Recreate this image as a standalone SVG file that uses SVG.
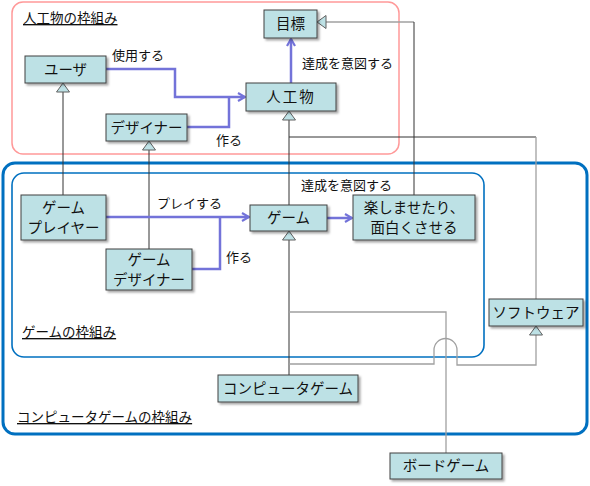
<svg xmlns="http://www.w3.org/2000/svg" width="590" height="486" viewBox="0 0 590 486">
<defs>
<style>
text{font-family:"Noto Sans CJK JP","Noto Sans",sans-serif;fill:#111;}
.n{font-size:14.5px;text-anchor:middle;}
.l{font-size:13px;}
.f{font-size:13.5px;text-decoration:underline;}
.box{fill:#bde1e5;stroke:#404040;stroke-width:1;filter:url(#sh);}
.p{fill:none;stroke:#7373d9;stroke-width:2.5;}
.g{fill:none;stroke:#333;stroke-width:1;}
.g2{fill:none;stroke:#a0a0a0;stroke-width:1.3;}
.tri{fill:#bde1e5;stroke:#606060;stroke-width:1;}
</style>
<filter id="sh" x="-10%" y="-20%" width="130%" height="150%">
<feDropShadow dx="2" dy="2" stdDeviation="1" flood-color="#000" flood-opacity="0.35"/>
</filter>
<marker id="ar" markerWidth="10" markerHeight="10" refX="8" refY="5" orient="auto" markerUnits="userSpaceOnUse">
<path d="M1,1 L8,5 L1,9" fill="none" stroke="#7373d9" stroke-width="2.2"/>
</marker>
</defs>
<rect width="590" height="486" fill="#fff"/>

<g id="frames">
<rect x="12" y="2" width="387" height="152" rx="11" fill="none" stroke="#ff9999" stroke-width="1.5"/>
<rect x="3" y="163" width="584" height="271" rx="12" fill="none" stroke="#0070c0" stroke-width="3"/>
<rect x="12" y="173" width="472" height="184" rx="12" fill="none" stroke="#0070c0" stroke-width="1.6"/>
<text class="f" x="23" y="23">人工物の枠組み</text>
<text class="f" x="22" y="337">ゲームの枠組み</text>
<text class="f" x="17" y="422">コンピュータゲームの枠組み</text>
</g>

<g id="connectors">
<path class="g" d="M63,92 V195"/>
<polygon class="tri" points="63,83 56.5,92 69.5,92"/>
<path class="g" d="M149,150 V249"/>
<polygon class="tri" points="149,141 142.5,150 155.5,150"/>
<path class="g" d="M289,120 V205"/>
<path class="g" d="M289,137 H536"/>
<path class="g2" d="M536,137 V299"/>
<polygon class="tri" points="289,111 282.5,120 295.5,120"/>
<path class="g2" d="M326,22 H414"/>
<path class="g" d="M414,22 V195"/>
<polygon class="tri" points="317,22 326,15.5 326,28.5"/>
<path class="g" d="M289,240 V375"/>
<polygon class="tri" points="289,231 282.5,240 295.5,240"/>
<path class="g2" d="M289,312 H446 V453"/>
<path class="g2" d="M536,335 V365 H457 V350 A11.5,11.5 0 0 0 434,350 V364 H289"/>
<polygon class="tri" points="536,326 529.5,335 542.5,335"/>

<path class="p" d="M106,69 H175 V97 H245" marker-end="url(#ar)"/>
<path class="p" d="M187,127 H229 V97"/>
<path class="p" d="M291,83 V39" marker-end="url(#ar)"/>
<path class="p" d="M106,217 H249" marker-end="url(#ar)"/>
<path class="p" d="M192,269 H220 V217"/>
<path class="p" d="M327,218 H352" marker-end="url(#ar)"/>
<text class="l" x="112" y="60">使用する</text>
<text class="l" x="216" y="145">作る</text>
<text class="l" x="302" y="68">達成を意図する</text>
<text class="l" x="157" y="208">プレイする</text>
<text class="l" x="226" y="262">作る</text>
<text class="l" x="301" y="190">達成を意図する</text>
</g>

<g id="n-mokuhyo"><rect class="box" x="264" y="10" width="53" height="28"/><text class="n" x="290.5" y="29">目標</text></g>
<g id="n-user"><rect class="box" x="25" y="56" width="81" height="27"/><text class="n" x="65.5" y="75">ユーザ</text></g>
<g id="n-designer"><rect class="box" x="106" y="114" width="81" height="27"/><text class="n" x="146.5" y="133">デザイナー</text></g>
<g id="n-jinkobutsu"><rect class="box" x="246" y="83" width="90" height="28"/><text class="n" x="291" y="102" letter-spacing="2">人工物</text></g>
<g id="n-player"><rect class="box" x="21" y="195" width="85" height="45"/><text class="n" x="63.5" y="213">ゲーム</text><text class="n" x="63.5" y="233">プレイヤー</text></g>
<g id="n-gdesigner"><rect class="box" x="106" y="249" width="86" height="41"/><text class="n" x="149" y="265">ゲーム</text><text class="n" x="149" y="285">デザイナー</text></g>
<g id="n-game"><rect class="box" x="250" y="205" width="77" height="26"/><text class="n" x="288.5" y="223">ゲーム</text></g>
<g id="n-tanoshi"><rect class="box" x="353" y="195" width="122" height="45"/><text class="n" x="414" y="213">楽しませたり、</text><text class="n" x="414" y="233">面白くさせる</text></g>
<g id="n-software"><rect class="box" x="489" y="299" width="94" height="27"/><text class="n" x="536" y="318">ソフトウェア</text></g>
<g id="n-computer"><rect class="box" x="218" y="375" width="140" height="27"/><text class="n" x="288" y="394">コンピュータゲーム</text></g>
<g id="n-board"><rect class="box" x="390" y="453" width="112" height="26"/><text class="n" x="446" y="471">ボードゲーム</text></g>
</svg>
